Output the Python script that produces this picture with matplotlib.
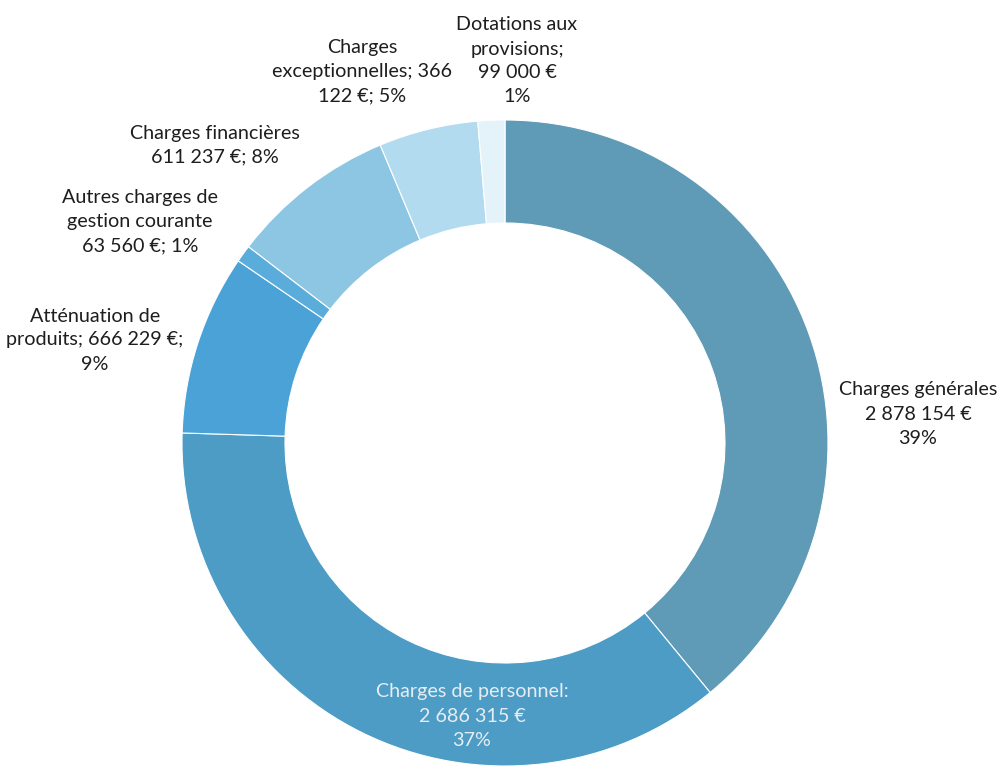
import matplotlib
import matplotlib.pyplot as plt

matplotlib.rcParams['font.family'] = ['Lato', 'DejaVu Sans']

# données du graphique (ordre horaire depuis midi)
categories = ["Charges générales", "Charges de personnel", "Atténuation de produits",
              "Autres charges de gestion courante", "Charges financières",
              "Charges exceptionnelles", "Dotations aux provisions"]
montants = [2878154, 2686315, 666229, 63560, 611237, 366122, 99000]
labels = ["Charges générales\n2 878 154 €\n39%",
          "Charges de personnel:\n2 686 315 €\n37%",
          "Atténuation de\nproduits; 666 229 €;\n9%",
          "Autres charges de\ngestion courante\n63 560 €; 1%",
          "Charges financières\n611 237 €; 8%",
          "Charges\nexceptionnelles; 366\n122 €; 5%",
          "Dotations aux\nprovisions;\n99 000 €\n1%"]

couleurs = ['#5f9ab6', '#4c9cc6', '#4aa2d6', '#5aaddb', '#8cc6e3', '#b3dbef', '#e4f2f9']

# positions des étiquettes en pixels (x, y depuis le haut)
pos_labels = [(918, 414), (472, 716), (95, 340), (140, 222), (215, 145), (362, 72), (517, 61)]
couleurs_txt = ['#1e1e1e', '#e6edf2', '#1e1e1e', '#1e1e1e', '#1e1e1e', '#1e1e1e', '#1e1e1e']

W, H = 1000, 770
fig = plt.figure(figsize=(10, 7.7), dpi=100)
ax = fig.add_axes([0, 0, 1, 1])
ax.set_xlim(0, W)
ax.set_ylim(0, H)
ax.set_aspect('equal')
ax.axis('off')

ax.pie(montants, colors=couleurs, startangle=90, counterclock=False,
       center=(505, H - 443), radius=323,
       wedgeprops=dict(width=103, edgecolor='white', linewidth=0.8))

for lab, (x, y), c in zip(labels, pos_labels, couleurs_txt):
    ax.text(x, H - y, lab, ha='center', va='center', fontsize=14.2,
            color=c, linespacing=1.5)

ax.set_xlim(0, W)
ax.set_ylim(0, H)

plt.savefig('out.png', dpi=100)
